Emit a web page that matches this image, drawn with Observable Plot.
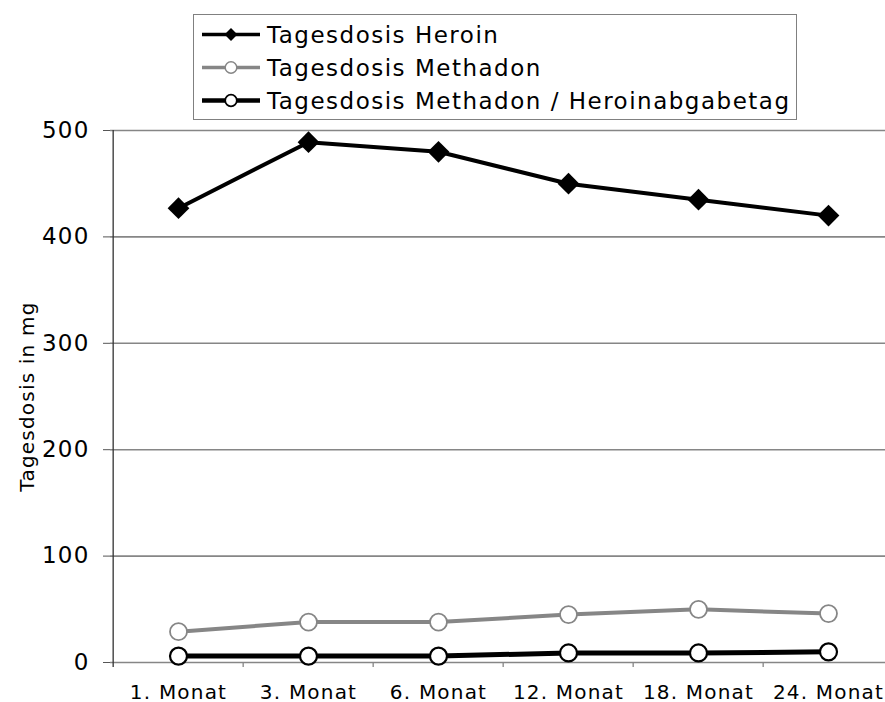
<!DOCTYPE html>
<html><head><meta charset="utf-8">
<script src="https://cdn.jsdelivr.net/npm/d3@7"></script>
<script src="https://cdn.jsdelivr.net/npm/@observablehq/plot@0.6"></script>
<style>
body{margin:0;background:#fff;}
#wrap{position:relative;width:885px;height:702px;font-family:"DejaVu Sans",sans-serif;}
#legend{position:absolute;left:193px;top:14px;width:604px;height:106px;border:1px solid #808080;background:#fff;box-sizing:border-box;}
.row{position:absolute;left:7px;height:33px;display:flex;align-items:center;font-size:23px;letter-spacing:1.5px;white-space:nowrap;color:#000;}
.row svg{margin-right:6px;display:block;}
</style></head>
<body><div id="wrap"><div id="chart"></div><div id="legend"></div></div>
<script>
// ---- data ----
const categories = ["1. Monat", "3. Monat", "6. Monat", "12. Monat", "18. Monat", "24. Monat"];
const seriesNames = ["Tagesdosis Heroin", "Tagesdosis Methadon", "Tagesdosis Methadon / Heroinabgabetag"];
const heroin = [427, 489, 480, 450, 435, 420];
const methadon = [29, 38, 38, 45, 50, 46];
const methadonHeroinTag = [6, 6, 6, 9, 9, 10];
const yTicks = [0, 100, 200, 300, 400, 500];

// ---- styles ----
const seriesStyles = [
  {line: "#000", width: 4, symbol: "diamond2", fill: "#000", stroke: "none", r: 9.8, sw: 0, lr: 5.8},
  {line: "#868686", width: 4, symbol: "circle", fill: "#fff", stroke: "#868686", r: 8.5, sw: 1.8, lr: 5.8},
  {line: "#000", width: 5, symbol: "circle", fill: "#fff", stroke: "#000", r: 8.5, sw: 2.2, lr: 5.8}
];
const seriesValues = [heroin, methadon, methadonHeroinTag];

const rows = seriesNames.flatMap((s, k) => categories.map((c, i) => ({series: s, k, cat: c, v: seriesValues[k][i]})));

const xRange = [110.5, 894.5];
const step = (xRange[1] - xRange[0]) / categories.length;

const lineMarks = seriesNames.map((s, k) => Plot.line(rows.filter(d => d.k === k), {
  x: "cat", y: "v", stroke: seriesStyles[k].line, strokeWidth: seriesStyles[k].width, strokeLinejoin: "round"
}));
const dotMarks = seriesNames.map((s, k) => Plot.dot(rows.filter(d => d.k === k), {
  x: "cat", y: "v", symbol: seriesStyles[k].symbol, fill: seriesStyles[k].fill, stroke: seriesStyles[k].stroke,
  strokeWidth: seriesStyles[k].sw, r: seriesStyles[k].r
}));

const chart = Plot.plot({
  width: 885, height: 702,
  marginLeft: 110, marginRight: 0, marginTop: 130, marginBottom: 40,
  style: {fontFamily: "DejaVu Sans", fontSize: "19px", letterSpacing: "1.2px", color: "#000", background: "#fff", overflow: "visible"},
  x: {type: "point", domain: categories, range: xRange, padding: 0.5, axis: null},
  y: {domain: [0, 500], axis: null},
  marks: [
    Plot.ruleY(yTicks, {y: d => d, stroke: "#868686", strokeWidth: 1.6}),
    Plot.ruleX([categories[0]], {x: d => d, dx: -step / 2, y1: 500, y2: 0, insetBottom: -5, stroke: "#333", strokeWidth: 1.3}),
    Plot.ruleX(categories.slice(1), {x: d => d, dx: -step / 2, y1: 0, y2: 0, insetBottom: -5, stroke: "#868686", strokeWidth: 1.3}),
    Plot.axisY({ticks: yTicks, tickSize: 7, tickPadding: 14, fontSize: 23, label: null, stroke: "#555"}),
    Plot.axisX({tickSize: 0, tickPadding: 22, fontSize: 20, label: null}),
    Plot.text(["Tagesdosis in mg"], {frameAnchor: "left", textAnchor: "middle", dx: -83, rotate: -90, fontSize: 20, text: d => d}),
    ...lineMarks,
    ...dotMarks
  ]
});
document.getElementById("chart").appendChild(chart);

// ---- legend ----
const legend = d3.select("#legend");
const symbolPath = (sym, r) => {
  const s = sym === "diamond2" ? d3.symbolDiamond2 : d3.symbolCircle;
  return d3.symbol(s, Math.PI * r * r)();
};
seriesNames.forEach((name, k) => {
  const st = seriesStyles[k];
  const row = legend.append("div").attr("class", "row").style("top", (3 + k * 33) + "px");
  const svg = row.append("svg").attr("width", 60).attr("height", 33);
  svg.append("line").attr("x1", 1).attr("x2", 59).attr("y1", 16.5).attr("y2", 16.5)
    .attr("stroke", st.line).attr("stroke-width", st.width - 0.5);
  svg.append("path").attr("d", symbolPath(st.symbol, st.lr)).attr("transform", "translate(30,16.5)")
    .attr("fill", st.fill).attr("stroke", st.stroke).attr("stroke-width", st.sw * 0.8);
  row.append("span").text(name);
});
</script>
</body></html>
